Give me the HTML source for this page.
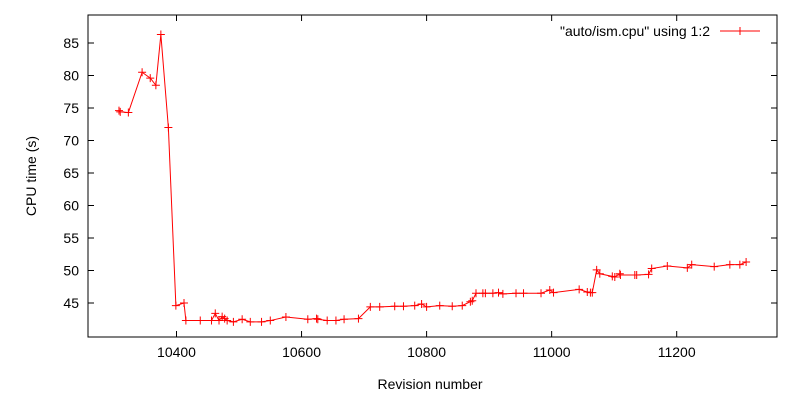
<!DOCTYPE html>
<html><head><meta charset="utf-8"><style>
body{margin:0;background:#fff}
svg text{font-family:"Liberation Sans",Arial,sans-serif;font-size:14px;fill:#000}
</style></head><body>
<svg id="chart" width="800" height="400" xmlns="http://www.w3.org/2000/svg">
<rect x="88" y="15" width="689" height="322" fill="none" stroke="#000" stroke-width="1"/>
<g id="ticks"></g>
<text x="430" y="389" text-anchor="middle">Revision number</text>
<text transform="translate(36,176) rotate(-90)" text-anchor="middle">CPU time (s)</text>
<g>
<text x="710" y="36" text-anchor="end">"auto/ism.cpu" using 1:2</text>
<line x1="720" y1="31" x2="760" y2="31" stroke="#f00"/>
<path d="M736 31h8M740 27v8" stroke="#f00"/>
</g>
<g id="series"></g>
</svg>
<script>
const revisions=[10308,10310,10323,10345,10358,10367,10375,10387,10399,10412,10415,10438,10456,10462,10468,10473,10477,10481,10491,10505,10518,10536,10550,10575,10610,10624,10626,10641,10655,10668,10691,10710,10725,10749,10763,10781,10792,10800,10821,10841,10857,10870,10873,10879,10890,10894,10906,10915,10922,10943,10955,10983,10997,11003,11044,11057,11062,11065,11072,11077,11097,11101,11109,11110,11133,11136,11155,11160,11185,11217,11224,11260,11285,11301,11311];
const cpuTimes=[74.6,74.4,74.3,80.5,79.6,78.5,86.3,72.0,44.6,45.0,42.3,42.3,42.3,43.4,42.3,42.9,42.6,42.3,42.1,42.5,42.1,42.1,42.3,42.85,42.5,42.6,42.5,42.3,42.3,42.5,42.6,44.4,44.4,44.5,44.5,44.6,44.85,44.4,44.6,44.5,44.6,45.2,45.35,46.5,46.5,46.5,46.5,46.6,46.4,46.5,46.5,46.5,47.0,46.6,47.1,46.7,46.6,46.6,50.1,49.5,49.1,49.0,49.5,49.3,49.3,49.3,49.4,50.3,50.7,50.4,50.9,50.6,50.9,50.9,51.3];
const xTicks=[10400,10600,10800,11000,11200];
const yTicks=[45,50,55,60,65,70,75,80,85];
const NS="http://www.w3.org/2000/svg";
const X=v=>176.5+(v-10400)*0.62525;
const Y=v=>303-(v-45)*6.5;
const tg=document.getElementById('ticks'), sg=document.getElementById('series');
function mk(tag,attrs,parent){const e=document.createElementNS(NS,tag);for(const k in attrs)e.setAttribute(k,attrs[k]);parent.appendChild(e);return e;}
xTicks.forEach(t=>{
 const x=X(t);
 const p=mk('path',{d:`M${x} 337v-6M${x} 15v6`,stroke:'#000'},tg);
 
 
 const l=mk('text',{x:x,y:357,'text-anchor':'middle'},tg);l.textContent=t;
 
 
});
yTicks.forEach(t=>{
 const y=Y(t);
 const p=mk('path',{d:`M88 ${y}h6M777 ${y}h-6`,stroke:'#000'},tg);
 
 
 const l=mk('text',{x:79,y:y+5,'text-anchor':'end'},tg);l.textContent=t;
 
 
});
const line=mk('polyline',{points:revisions.map((r,i)=>X(r)+','+Y(cpuTimes[i])).join(' '),fill:'none',stroke:'#f00','stroke-width':1},sg);


revisions.forEach((r,i)=>{
 const x=X(r),y=Y(cpuTimes[i]);
 const m=mk('path',{d:`M${x-4} ${y}h8M${x} ${y-4}v8`,stroke:'#f00'},sg);
 
 
});
</script>
</body></html>
